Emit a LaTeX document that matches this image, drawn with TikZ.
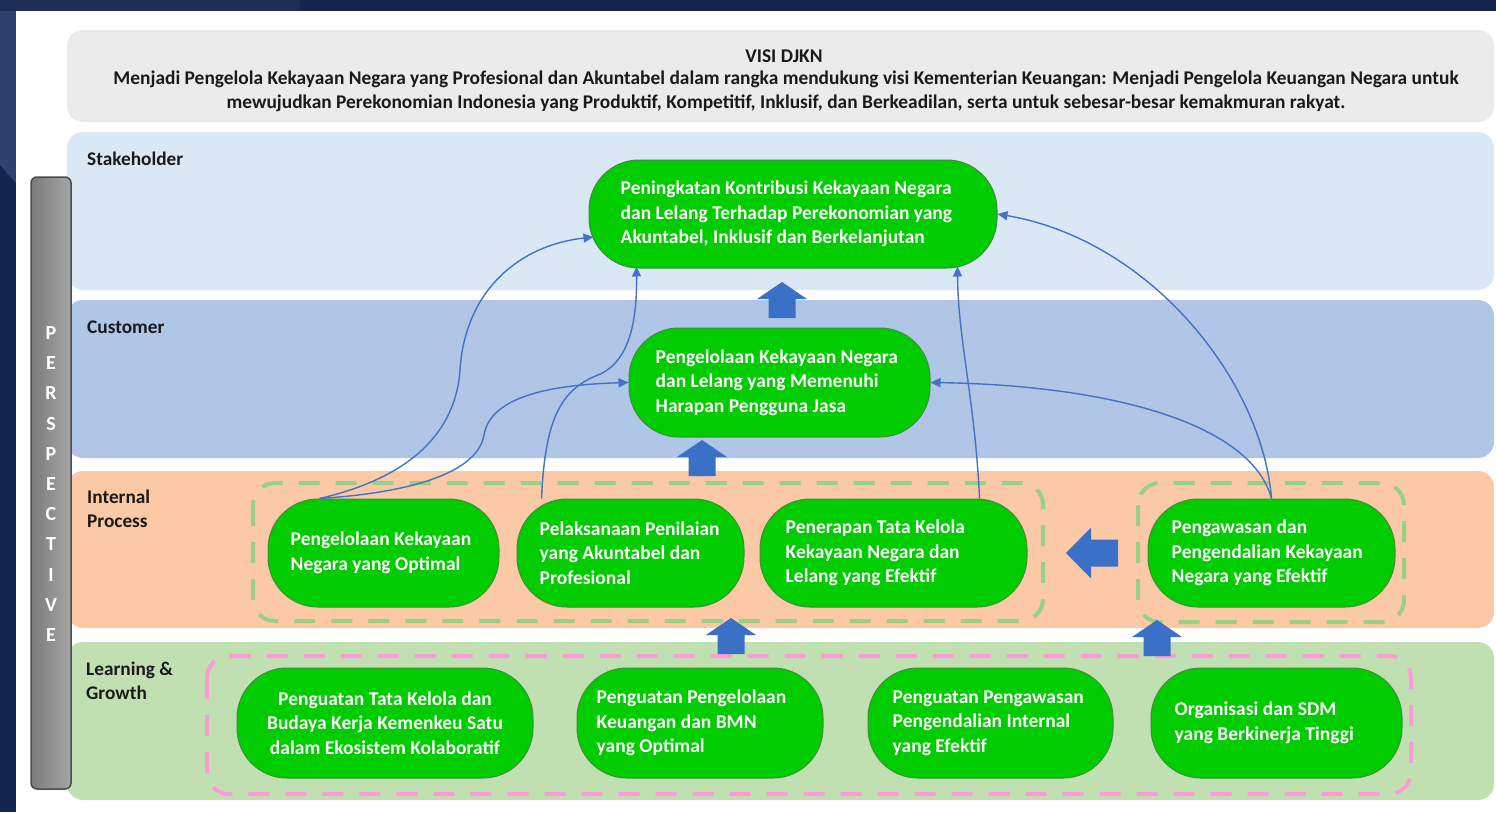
\documentclass[tikz,border=0pt]{standalone}
\usepackage{fontspec}
\setmainfont{Carlito}
\usetikzlibrary{arrows.meta,calc}
\definecolor{navy}{HTML}{14254F}
\definecolor{navylt}{HTML}{2E426F}
\definecolor{visibg}{HTML}{EBEBEB}
\definecolor{stakebg}{HTML}{DAE8F6}
\definecolor{custbg}{HTML}{AFC6E7}
\definecolor{intbg}{HTML}{FBC9A5}
\definecolor{learnbg}{HTML}{C1E0B2}
\definecolor{ngreen}{HTML}{00CC00}
\definecolor{gborder}{HTML}{3A8F3A}
\definecolor{dgreen}{HTML}{98D086}
\definecolor{dpink}{HTML}{FF9AD9}
\definecolor{lblue}{HTML}{4472C4}
\definecolor{bblue}{HTML}{3A71C6}
\definecolor{txt}{HTML}{1A1A1A}
\tikzset{
  band/.style={rounded corners=16pt},
  gnode/.style={draw=gborder, line width=1pt, fill=ngreen, rounded corners=50pt, inner sep=0pt},
  gtext/.style={text=white, font=\bfseries\fontsize{19.5}{24.5}\selectfont, align=left, inner sep=0pt, anchor=west},
  blabel/.style={anchor=base west, text=txt, font=\bfseries\fontsize{19.3}{24}\selectfont, align=left, inner sep=0pt},
  vtext/.style={text=txt, font=\bfseries\fontsize{19.4}{23.5}\selectfont, align=center, inner sep=0pt, anchor=base},
  pletter/.style={text=white, font=\bfseries\fontsize{20}{20}\selectfont, inner sep=0pt},
  gdash/.style={draw=dgreen, line width=4pt, dash pattern=on 21pt off 16pt, rounded corners=22pt},
  pdash/.style={draw=dpink, line width=4pt, dash pattern=on 21pt off 16pt, rounded corners=22pt},
  conn/.style={draw=lblue, line width=1.4pt, -{Triangle[length=10pt,width=9pt]}},
  uparr/.pic={\fill[bblue] (0,0) -- (25,17) -- (13.5,17) -- (13.5,36) -- (-13.5,36) -- (-13.5,17) -- (-25,17) -- cycle;}
}
\begin{document}
\begin{tikzpicture}[x=1pt,y=-1pt]
\useasboundingbox (0,0) rectangle (1496,812);
% frame
\fill[navy] (0,0) rectangle (1496,812);
\fill[navylt] (0,0) -- (16,0) -- (16,11) -- (16,183) -- (0,165) -- cycle;
\fill[navy!70!navylt] (0,0) rectangle (300,11);
\fill[white] (16,11) rectangle (1496,812);
% bands
\fill[visibg, band] (67,30) rectangle (1494,122);
\fill[stakebg, band] (67,132) rectangle (1494,290);
\fill[custbg, band] (67,300) rectangle (1494,458);
\fill[intbg, band] (67,471) rectangle (1494,628);
\fill[learnbg, band] (67,642) rectangle (1494,800);
% perspective bar
\shade[left color=black!52, right color=black!35, rounded corners=6pt] (31,177) rectangle (71,789);
\draw[black!70, line width=1.5pt, rounded corners=6pt] (31,177) rectangle (71,789);
\foreach \l [count=\i] in {P,E,R,S,P,E,C,T,I,V,E}
  \node[pletter] (p\i) at (51,{333+30.2*(\i-1)}) {\l};
% vision text
\node[vtext] (vtitle) at (784,62) {VISI DJKN};
\node[vtext] (vbody) at (786,108) {Menjadi Pengelola Kekayaan Negara yang Profesional dan Akuntabel dalam rangka mendukung visi Kementerian Keuangan: Menjadi Pengelola Keuangan Negara untuk\\mewujudkan Perekonomian Indonesia yang Produktif, Kompetitif, Inklusif, dan Berkeadilan, serta untuk sebesar-besar kemakmuran rakyat.};
% band labels
\node[blabel] (lstake) at (87,165) {Stakeholder};
\node[blabel] (lcust) at (87,333) {Customer};
\node[blabel] (lint) at (87,527) {Internal\\Process};
\node[blabel] (llearn) at (86,699) {Learning \&\\Growth};
% dashed groups
\draw[gdash] (253,483) rectangle (1043,621);
\draw[gdash] (1138,483) rectangle (1404,622);
\draw[pdash] (207,656) rectangle (1411,794);
% block arrows
\pic at (782,282) {uparr};
\pic at (702,440) {uparr};
\pic at (731,618) {uparr};
\pic at (1157,620) {uparr};
\fill[bblue] (1066,553) -- (1091,527.5) -- (1091,539.5) -- (1118,539.5) -- (1118,566.5) -- (1091,566.5) -- (1091,578.5) -- cycle;
% nodes
\node[gnode, minimum width=408pt, minimum height=108pt] (s1) at (793,214) {};
\node[gtext] (s1t) at ([xshift=32pt]s1.west)
  {Peningkatan Kontribusi Kekayaan Negara\\dan Lelang Terhadap Perekonomian yang\\Akuntabel, Inklusif dan Berkelanjutan};
\node[gnode, minimum width=301pt, minimum height=109pt] (c1) at (779.5,382.5) {};
\node[gtext] (c1t) at ([xshift=27pt]c1.west)
  {Pengelolaan Kekayaan Negara\\dan Lelang yang Memenuhi\\Harapan Pengguna Jasa};
\node[gnode, minimum width=231pt, minimum height=108pt] (i1) at (383.5,553) {};
\node[gtext] (i1t) at ([xshift=23pt]i1.west)
  {Pengelolaan Kekayaan\\Negara yang Optimal};
\node[gnode, minimum width=227pt, minimum height=108pt] (i2) at (630.5,553) {};
\node[gtext] (i2t) at ([xshift=23pt]i2.west)
  {Pelaksanaan Penilaian\\yang Akuntabel dan\\Profesional};
\node[gnode, minimum width=267pt, minimum height=108pt] (i3) at (893.5,553) {};
\node[gtext] (i3t) at ([xshift=26pt]i3.west)
  {Penerapan Tata Kelola\\Kekayaan Negara dan\\Lelang yang Efektif};
\node[gnode, minimum width=247pt, minimum height=108pt] (i4) at (1271.5,553) {};
\node[gtext] (i4t) at ([xshift=24pt]i4.west)
  {Pengawasan dan\\Pengendalian Kekayaan\\Negara yang Efektif};
\node[gnode, minimum width=296pt, minimum height=110pt] (l1) at (385,723) {};
\node[gtext, align=center, anchor=center] (l1t) at (l1.center)
  {Penguatan Tata Kelola dan\\Budaya Kerja Kemenkeu Satu\\dalam Ekosistem Kolaboratif};
\node[gnode, minimum width=246pt, minimum height=110pt] (l2) at (700,723) {};
\node[gtext] (l2t) at ([xshift=20pt]l2.west)
  {Penguatan Pengelolaan\\Keuangan dan BMN\\yang Optimal};
\node[gnode, minimum width=245pt, minimum height=110pt] (l3) at (990.5,723) {};
\node[gtext] (l3t) at ([xshift=25pt]l3.west)
  {Penguatan Pengawasan\\Pengendalian Internal\\yang Efektif};
\node[gnode, minimum width=251pt, minimum height=110pt] (l4) at (1276.5,723) {};
\node[gtext] (l4t) at ([xshift=24pt]l4.west)
  {Organisasi dan SDM\\yang Berkinerja Tinggi};
% connectors
\coordinate (i1a) at ([xshift=52pt]i1.north west);
\coordinate (i2a) at ([xshift=25pt]i2.north west);
\coordinate (i3a) at ([xshift=220pt]i3.north west);
\coordinate (i4a) at (i4.north);
\coordinate (s1l) at ([shift={(5,23)}]s1.west);
\coordinate (s1bl) at ([shift={(48,-2)}]s1.south west);
\coordinate (s1br) at ([shift={(-40,-2)}]s1.south east);
\path[conn] (i1a) .. controls (400,480) and (455,440) .. (460,370) .. controls (465,290) and (520,245) .. (s1l);
\path[conn] (i1a) .. controls (420,492) and (478,470) .. (484,435) .. controls (490,400) and (540,385) .. (c1.west);
\path[conn] (i2a) .. controls (545,420) and (560,390) .. (598,375) .. controls (630,362) and (637,320) .. (s1bl);
\path[conn] (i3a) .. controls (975,400) and (958,340) .. (s1br);
\path[conn] (i4a) .. controls (1250,420) and (1100,385) .. (c1.east);
\path[conn] (i4a) .. controls (1262,380) and (1150,240) .. (s1.east);
\end{tikzpicture}
\end{document}
